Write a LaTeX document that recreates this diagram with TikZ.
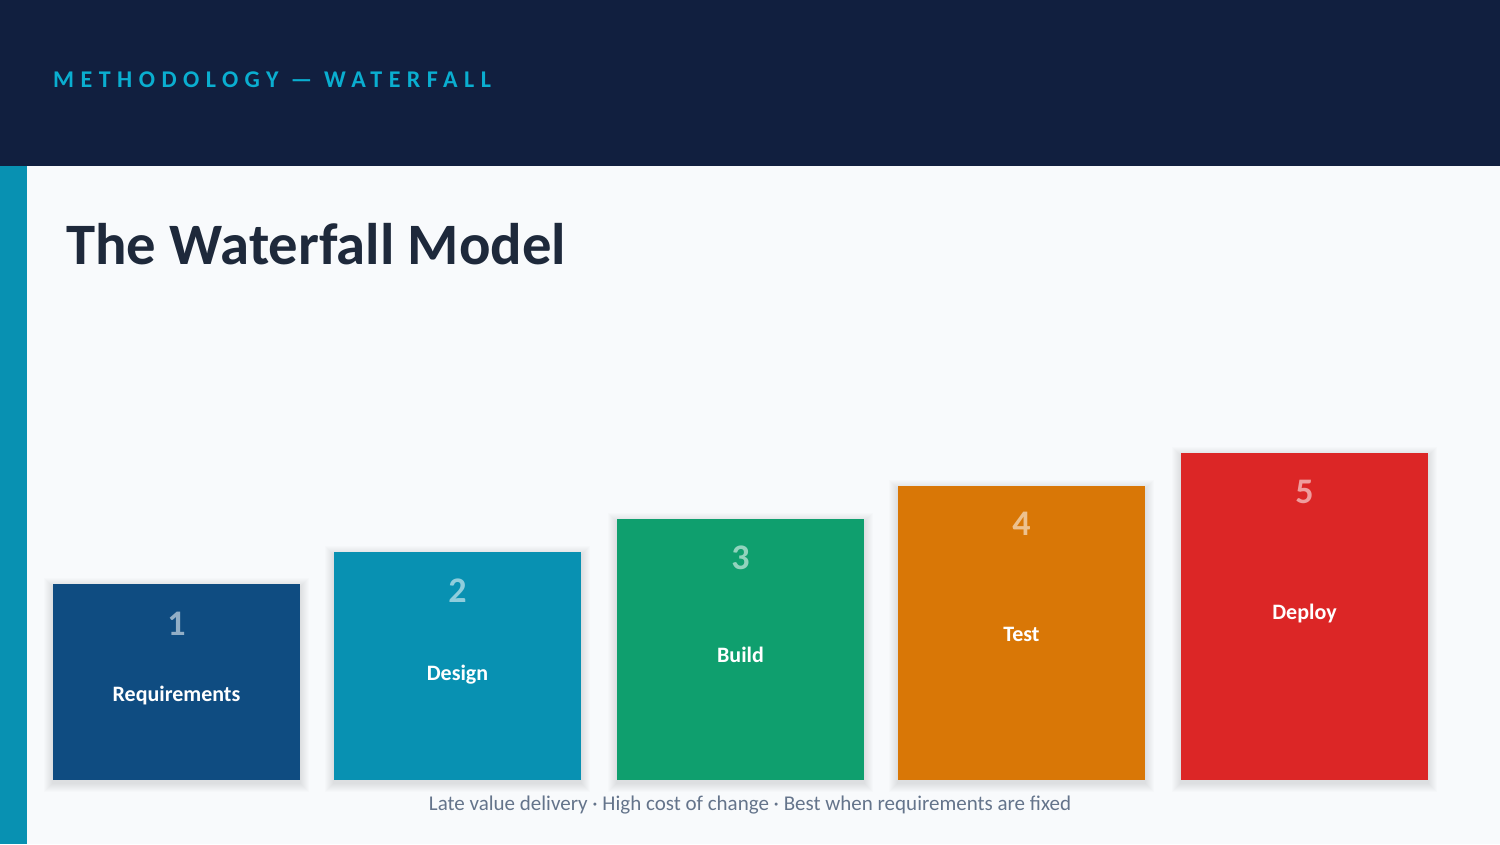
\documentclass[tikz,border=0pt]{standalone}
\usepackage{fontspec}
\setmainfont{Carlito}
\newfontfamily\headfont[LetterSpace=27]{Carlito}
\definecolor{pagebg}{HTML}{F8FAFC}
\definecolor{headbg}{HTML}{111F3F}
\definecolor{stripe}{HTML}{0891B2}
\definecolor{headtxt}{HTML}{0AAED0}
\definecolor{titletxt}{HTML}{1E293B}
\definecolor{foottxt}{HTML}{64748B}
\definecolor{cA}{HTML}{0F4C81}
\definecolor{cB}{HTML}{0891B2}
\definecolor{cC}{HTML}{0F9F6E}
\definecolor{cD}{HTML}{D97706}
\definecolor{cE}{HTML}{DC2626}
\pgfdeclarelayer{shadowlayer}
\pgfsetlayers{shadowlayer,main}
\tikzset{
  stepbox/.style={draw=none, minimum width=247pt, anchor=north west, inner sep=0pt},
  stepnum/.style={text=white, text opacity=0.55, font=\bfseries\fontsize{36}{36}\selectfont, inner sep=0pt},
  steplabel/.style={text=white, font=\bfseries\fontsize{22}{22}\selectfont, inner sep=0pt},
  softshade/.style={fill=black, opacity=0.012, draw=none},
}
\newcommand{\boxshade}[1]{%
  \begin{pgfonlayer}{shadowlayer}
  \foreach \d in {1,...,9}{
    \fill[softshade] ([xshift=-\d pt, yshift=\d pt-3pt]#1.north west) rectangle ([xshift=\d pt, yshift=-\d pt-3pt]#1.south east);
  }
  \end{pgfonlayer}}
\begin{document}
\begin{tikzpicture}[x=1pt,y=-1pt]
\useasboundingbox (0,0) rectangle (1500,844);
\begin{pgfonlayer}{shadowlayer}
\fill[pagebg] (0,0) rectangle (1500,844);
\end{pgfonlayer}
\fill[headbg] (0,0) rectangle (1500,166);
\fill[stripe] (0,166) rectangle (27,844);
\node[anchor=base west, inner sep=0pt, text=headtxt, font=\headfont\bfseries\fontsize{24}{24}\selectfont] (head) at (53,87) {METHODOLOGY — WATERFALL};
\node[anchor=base west, inner sep=0pt, text=titletxt, font=\bfseries\fontsize{58.7}{58.7}\selectfont] (title) at (66,264) {The Waterfall Model};

\node[stepbox, fill=cA, minimum height=196pt] (b1) at (53,584) {};
\node[stepbox, fill=cB, minimum height=228pt] (b2) at (334,552) {};
\node[stepbox, fill=cC, minimum height=261pt] (b3) at (617,519) {};
\node[stepbox, fill=cD, minimum height=294pt] (b4) at (898,486) {};
\node[stepbox, fill=cE, minimum height=327pt] (b5) at (1181,453) {};
\boxshade{b1}\boxshade{b2}\boxshade{b3}\boxshade{b4}\boxshade{b5}

\node[stepnum] (n1) at (176.5,624) {1};
\node[stepnum] (n2) at (457.5,591) {2};
\node[stepnum] (n3) at (740.5,558) {3};
\node[stepnum] (n4) at (1021.5,524) {4};
\node[stepnum] (n5) at (1304.5,492) {5};

\node[steplabel] (l1) at (176.5,696) {Requirements};
\node[steplabel] (l2) at (457.5,675) {Design};
\node[steplabel] (l3) at (740.5,655) {Build};
\node[steplabel] (l4) at (1021.5,634) {Test};
\node[steplabel] (l5) at (1304.5,614) {Deploy};

\node[inner sep=0pt, text=foottxt, font=\fontsize{21}{21}\selectfont] (foot) at (750,805) {Late value delivery · High cost of change · Best when requirements are fixed};
\end{tikzpicture}
\end{document}
